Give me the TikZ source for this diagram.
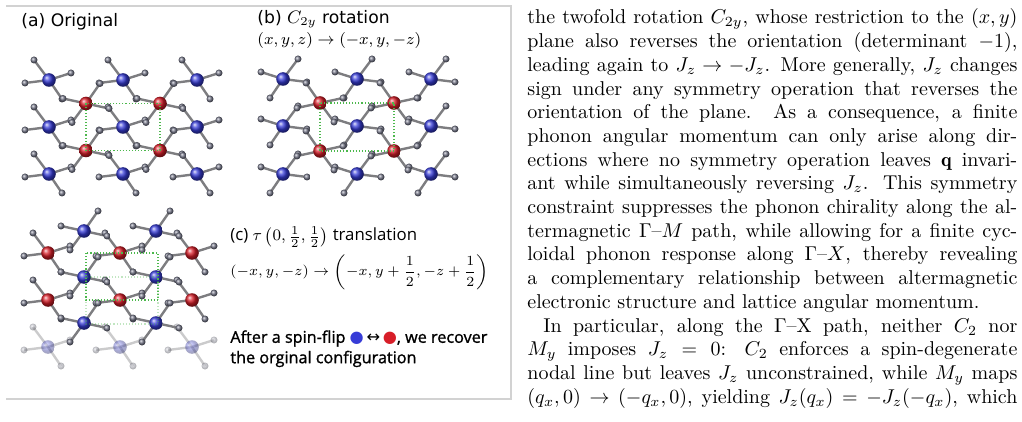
\documentclass[tikz,border=0pt]{standalone}
\usepackage{fontspec}
\usepackage{amsmath}
\newfontfamily\dejavu{DejaVu Sans}
\newfontfamily\osans{Open Sans}
\newfontfamily\osansb{Open Sans}[FakeBold=1.2]
\definecolor{ligc}{RGB}{120,122,140}
\definecolor{bondc}{RGB}{125,125,128}
\definecolor{bluec}{RGB}{55,60,215}
\definecolor{redc}{RGB}{215,30,40}
\tikzset{
  bond/.style={draw=bondc, line width=1.2pt},
  lig/.style={ball color=ligc},
  bluem/.style={ball color=bluec},
  redm/.style={ball color=redc},
  cell/.style={draw=green!60!black!70!white, densely dotted, line width=0.55pt},
  frame/.style={draw=gray!35, line width=0.8pt}
}
\newcommand\grp[4]{%
  \foreach \px/\py in {#1}{%
    \ifcase#3
      \foreach \dx/\dy in {#2}{\draw[bond] (\px,\py) -- ++(\dx,\dy);}%
    \or
      \foreach \dx/\dy in {#2}{\shade[lig] (\px+\dx,\py+\dy) circle (3.5);}%
    \or
      \shade[#4] (\px,\py) circle (6.8);%
    \fi}}
\begin{document}
\begin{tikzpicture}[x=0.5pt,y=-0.5pt]
\useasboundingbox (0,0) rectangle (1022,422);
% frame
\draw[frame] (6,6) -- (511,6) -- (511,399) -- (6,399);
% panel (a)
\foreach \m in {0,1,2}{
 \grp{49/80,123/80,197/80,49/127,123/127,197/127,49/174,123/174,197/174}{-15/-20,-24/3,22/-7,13/19}{\m}{bluem}
 \grp{86/103.5,160/103.5,86/150.5,160/150.5}{14/-20,23/5,-14/19,-23/-5}{\m}{redm}
}
\draw[cell] (86,103.5) rectangle (160,150.5);
% panel (b)
\foreach \m in {0,1,2}{
 \grp{283/79,357/79,431/79,283/126,357/126,431/126,283/174,357/174,431/174}{15/-20,24/3,-22/-7,-13/19}{\m}{bluem}
 \grp{320/103,394/103,320/151,394/151}{-14/-20,-23/5,14/19,23/-5}{\m}{redm}
}
\draw[cell] (320,103) rectangle (394,151);
% panel (c)
\begin{scope}[opacity=0.4]
\foreach \m in {0,1,2}{
 \grp{48/347,120/347,192/347}{-15/-20,-24/3,22/-7,13/19}{\m}{bluem}
}
\end{scope}
\foreach \m in {0,1,2}{
 \grp{48/253,120/253,192/253,48/300,120/300,192/300}{-15/-20,-24/3,22/-7,13/19}{\m}{redm}
 \grp{84/231,156/231,84/277,156/277,84/323,156/323}{14/-20,23/5,-14/19,-23/-5}{\m}{bluem}
}
\draw[cell, opacity=0.35] (86,277) rectangle (158,324);
\draw[cell] (86,253) rectangle (158,300);
% labels
\node[anchor=west, inner sep=0] (la) at (21,22) {\dejavu\fontsize{8.6}{10}\selectfont (a) Original};
\node[anchor=west, inner sep=0] (lb) at (257,19) {\dejavu\fontsize{8.6}{10}\selectfont (b) $C_{2y}$ rotation};
\node[anchor=west, inner sep=0] (lb2) at (257,41) {\fontsize{8.3}{10}\selectfont $(x,y,z)\rightarrow(-x,y,-z)$};
\node[anchor=west, inner sep=0] (lc) at (230,237) {\osans\fontsize{8.4}{10}\selectfont (c) $\tau\left(0,\frac{1}{2},\frac{1}{2}\right)$ translation};
\node[anchor=west, inner sep=0] (lc2) at (230,272) {\fontsize{7.3}{9}\selectfont $(-x,y,-z)\rightarrow\left(-x,y+\dfrac{1}{2},-z+\dfrac{1}{2}\right)$};
\node[anchor=north west, inner sep=0, align=left, font=\osansb\fontsize{8.1}{10.2}\selectfont] (lf) at (230,330) {After a spin-flip {\dejavu\textcolor{bluec}{●}}\,{\dejavu ↔}\,{\dejavu\textcolor{redc}{●}}, we recover\\ the orginal configuration};
% text column
\node[anchor=base west, inner sep=0] (txt) at (527,24) {\parbox[t]{245pt}{\fontsize{10}{11.85}\selectfont\setlength{\parindent}{8pt}\noindent
the twofold rotation $C_{2y}$, whose restriction to the $(x,y)$\linebreak
plane also reverses the orientation (determinant $-1$),\linebreak
leading again to $J_z\rightarrow -J_z$. More generally, $J_z$ changes\linebreak
sign under any symmetry operation that reverses the\linebreak
orientation of the plane.\ \ As a consequence, a finite\linebreak
phonon angular momentum can only arise along dir-\linebreak
ections where no symmetry operation leaves $\mathbf{q}$ invari-\linebreak
ant while simultaneously reversing $J_z$. This symmetry\linebreak
constraint suppresses the phonon chirality along the al-\linebreak
termagnetic $\Gamma$--$M$ path, while allowing for a finite cyc-\linebreak
loidal phonon response along $\Gamma$--$X$, thereby revealing\linebreak
a complementary relationship between altermagnetic\linebreak
electronic structure and lattice angular momentum.\par
In particular, along the $\Gamma$--X path, neither $C_2$ nor\linebreak
$M_y$ imposes $J_z = 0$: $C_2$ enforces a spin-degenerate\linebreak
nodal line but leaves $J_z$ unconstrained, while $M_y$ maps\linebreak
$(q_x,0)\rightarrow(-q_x,0)$, yielding $J_z(q_x)=-J_z(-q_x)$, which\linebreak}};
\end{tikzpicture}
\end{document}
